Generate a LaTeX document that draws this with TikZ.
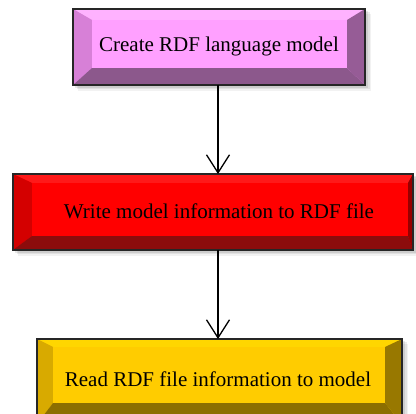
\documentclass[tikz,border=0pt]{standalone}
\usepackage{fontspec}
\setmainfont{Liberation Serif}
\usetikzlibrary{arrows.meta}
\definecolor{pF}{RGB}{255,160,255}
\definecolor{pT}{RGB}{255,178,255}
\definecolor{pL}{RGB}{215,128,215}
\definecolor{pB}{RGB}{140,88,140}
\definecolor{pR}{RGB}{150,92,150}
\definecolor{rF}{RGB}{255,0,0}
\definecolor{rT}{RGB}{255,25,25}
\definecolor{rL}{RGB}{212,0,0}
\definecolor{rB}{RGB}{140,12,12}
\definecolor{rR}{RGB}{150,0,0}
\definecolor{yF}{RGB}{255,204,0}
\definecolor{yT}{RGB}{255,214,0}
\definecolor{yL}{RGB}{216,170,0}
\definecolor{yB}{RGB}{140,110,0}
\definecolor{yR}{RGB}{152,120,0}
\tikzset{
  label/.style={font=\fontsize{21}{25}\selectfont, text=black, inner sep=0pt},
  conn/.style={line width=1.3pt, -{Straight Barb[length=18pt,width=23pt,line width=1.3pt]}},
}
% #1 outer x1, #2 y1, #3 x2, #4 y2, #5 inner x1, #6 y1, #7 x2, #8 y2, #9 colour prefix
\newcommand{\bevelbox}[9]{%
  \foreach \s/\o in {6/0.05,4.5/0.07,3/0.09}{
    \fill[black,opacity=\o] (#1+\s-1,#2+\s-1) rectangle (#3+\s,#4+\s);
  }
  \fill[#9F] (#1,#2) rectangle (#3,#4);
  \fill[#9T] (#1,#2) -- (#3,#2) -- (#7,#6) -- (#5,#6) -- cycle;
  \fill[#9L] (#1,#2) -- (#5,#6) -- (#5,#8) -- (#1,#4) -- cycle;
  \fill[#9B] (#1,#4) -- (#5,#8) -- (#7,#8) -- (#3,#4) -- cycle;
  \fill[#9R] (#3,#2) -- (#7,#6) -- (#7,#8) -- (#3,#4) -- cycle;
  \fill[#9F] (#5,#6) rectangle (#7,#8);
  \draw[line width=1.2pt, black!85] (#1,#2) rectangle (#3,#4);
}
\begin{document}
\begin{tikzpicture}[x=1pt,y=-1pt]
\useasboundingbox (0,0) rectangle (416,414);
\begin{scope}
\clip (0,0) rectangle (416,414);
\bevelbox{73}{9}{365}{85}{92}{20}{347}{68}{p}
\bevelbox{13}{174}{413}{250}{32}{183}{408}{236}{r}
\bevelbox{37}{339}{402}{424}{53}{347}{385}{403}{y}
\end{scope}
\node[label] (b1) at (219,46) {Create RDF language model};
\node[label] (b2) at (219,211) {Write model information to RDF file};
\node[label] (b3) at (218,379) {Read RDF file information to model};
\coordinate (a1s) at (218,85);
\coordinate (a1e) at (218,174);
\coordinate (a2s) at (218,250);
\coordinate (a2e) at (218,339);
\draw[conn] (a1s) -- (a1e);
\draw[conn] (a2s) -- (a2e);
\end{tikzpicture}
\end{document}
